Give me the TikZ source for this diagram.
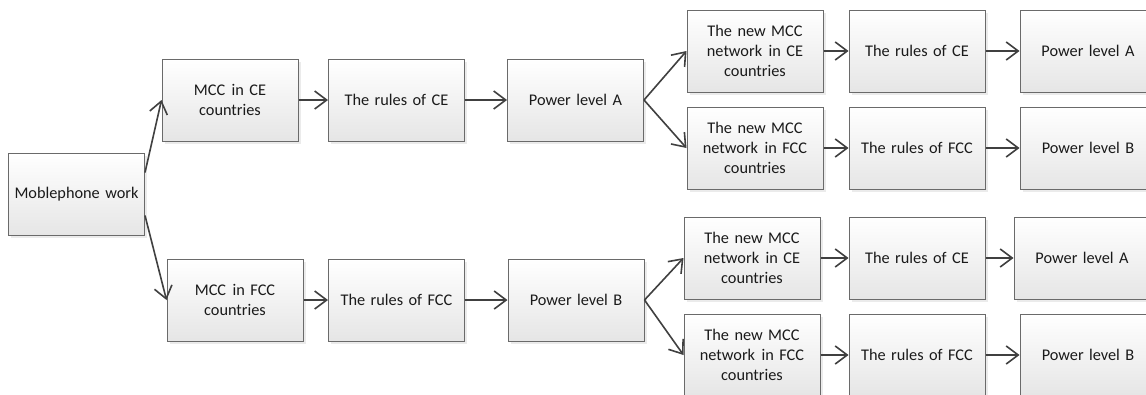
\documentclass[tikz,border=0pt]{standalone}
\usepackage{fontspec}
\setmainfont{Carlito}[WordSpace=0.7]
\usetikzlibrary{arrows.meta,shadows}
\definecolor{edgegray}{HTML}{404040}
\definecolor{boxline}{HTML}{6A6A6A}
\definecolor{txt}{HTML}{1A1A1A}
\newcommand{\dsp}{\hspace{0.4em}}
\begin{document}
\begin{tikzpicture}[x=1pt,y=-1pt,
  box/.style={draw=boxline, line width=1pt, top color=white, bottom color=black!10,
    minimum width=136pt, minimum height=82pt, inner sep=2pt, align=center,
    text width=132pt, font=\fontsize{16.3}{20}\selectfont, text=txt,
    drop shadow={shadow xshift=2.5pt, shadow yshift=-2.5pt, fill=black!8, opacity=1}},
  arr/.style={draw=edgegray, line width=1.6pt,
    -{Straight Barb[length=12pt,width=18pt,line width=1.6pt]}}]
\useasboundingbox (0,0) rectangle (1146,394);
\clip (0,0) rectangle (1146,394);
\fill[white] (0,0) rectangle (1146,394);
% level 0
\node[box] (root) at (76.5,194.5) {Moblephone work};
% level 1
\node[box] (mce) at (230,100) {MCC\dsp in CE\\countries};
\node[box] (rce) at (396.5,100) {The rules of CE};
\node[box] (pa) at (575.5,100) {Power level A};
\node[box] (mfcc) at (235,300) {MCC\dsp in FCC\\countries};
\node[box] (rfcc) at (396.5,300) {The rules of FCC};
\node[box] (pb) at (576,300) {Power level B};
% level 2
\node[box] (n1) at (755,51) {The new MCC\\network\dsp in CE\\countries};
\node[box] (r1) at (917,51) {The rules of CE};
\node[box] (p1) at (1088,51) {Power level A};
\node[box] (n2) at (755,148) {The new MCC\\network\dsp in FCC\\countries};
\node[box] (r2) at (917,148) {The rules of FCC};
\node[box] (p2) at (1088,148) {Power level B};
\node[box] (n3) at (752,258) {The new MCC\\network\dsp in CE\\countries};
\node[box] (r3) at (917,258) {The rules of CE};
\node[box] (p3) at (1082,258) {Power level A};
\node[box] (n4) at (752,355) {The new MCC\\network\dsp in FCC\\countries};
\node[box] (r4) at (917,355) {The rules of FCC};
\node[box] (p4) at (1088,355) {Power level B};
% connectors
\draw[arr] ([yshift=22pt]root.east) -- (mce.west);
\draw[arr] ([yshift=-21pt]root.east) -- (mfcc.west);
\draw[arr] (mce) -- (rce);
\draw[arr] (rce) -- (pa);
\draw[arr] (mfcc) -- (rfcc);
\draw[arr] (rfcc) -- (pb);
\draw[arr] (pa.east) -- (n1.west);
\draw[arr] (pa.east) -- (n2.west);
\draw[arr] (pb.east) -- (n3.west);
\draw[arr] (pb.east) -- (n4.west);
\draw[arr] (n1) -- (r1);
\draw[arr] (r1) -- (p1);
\draw[arr] (n2) -- (r2);
\draw[arr] (r2) -- (p2);
\draw[arr] (n3) -- (r3);
\draw[arr] (r3) -- (p3);
\draw[arr] (n4) -- (r4);
\draw[arr] (r4) -- (p4);
\end{tikzpicture}
\end{document}
